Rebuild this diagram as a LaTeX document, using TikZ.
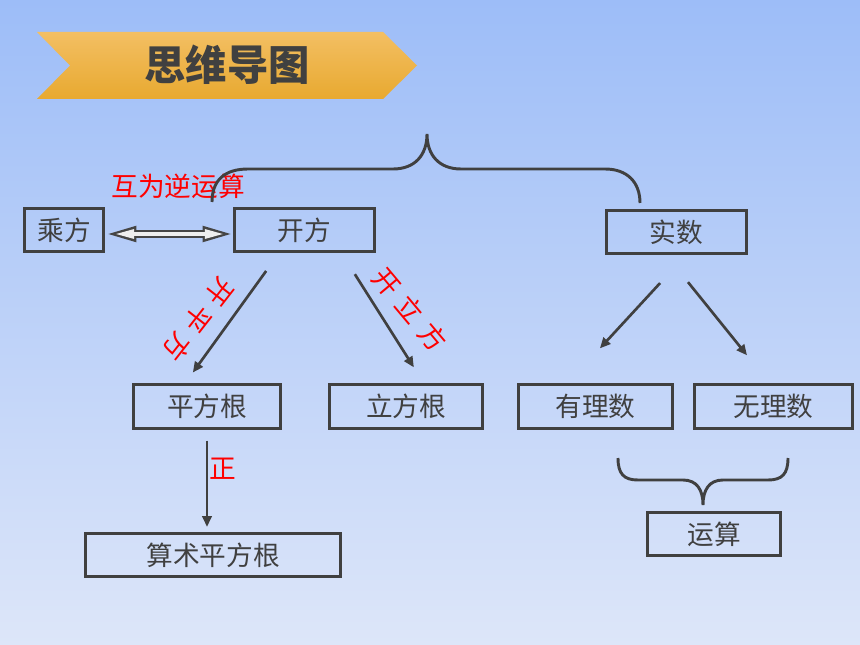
\documentclass[tikz,border=0pt]{standalone}
\usepackage{fontspec}
\setmainfont{Noto Sans CJK SC}
\usetikzlibrary{arrows.meta}
\definecolor{bgtop}{HTML}{9DBDF8}
\definecolor{bgbottom}{HTML}{DDE6F9}
\definecolor{boxgray}{HTML}{404040}
\definecolor{arrgray}{HTML}{454545}
\definecolor{arrwhite}{HTML}{EEEEEE}
\definecolor{bantop}{HTML}{F3BF63}
\definecolor{banmid}{HTML}{F7BB3E}
\definecolor{banbottom}{HTML}{E8A930}
\begin{document}
\begin{tikzpicture}[x=0.75pt,y=-0.75pt,
  box/.style={draw=boxgray, line width=2.2pt, text=boxgray, font=\fontsize{20}{24}\selectfont, inner sep=0pt, minimum height=32.5pt},
  redtxt/.style={text=red, font=\fontsize{20}{24}\selectfont, inner sep=0pt},
  link/.style={draw=boxgray, line width=2pt, -{Triangle[length=8pt,width=7pt]}},
  brace/.style={draw=boxgray, line width=2.2pt},
  harrowout/.style={draw=arrgray, line width=6pt, {Triangle[length=21pt,width=12.5pt,line width=0pt]}-{Triangle[length=21pt,width=12.5pt,line width=0pt]}},
  harrowin/.style={draw=arrwhite, line width=3pt, {Triangle[length=13.5pt,width=7.5pt,line width=0pt]}-{Triangle[length=13.5pt,width=7.5pt,line width=0pt]}}]
\fill[top color=bgtop, bottom color=bgbottom] (0,0) rectangle (860,645);
\useasboundingbox (0,0) rectangle (860,645);
\shade[top color=bantop, middle color=banmid, bottom color=banbottom] (37,32) -- (383,32) -- (417,65.5) -- (383,99) -- (37,99) -- (70,65.5) -- cycle;
\node[text=boxgray, font=\bfseries\fontsize{31}{36}\selectfont] (title) at (227,65) {思维导图};
\node[box, minimum width=59.25pt] (cf) at (64,230) {乘方};
\node[box, minimum width=105pt] (kf) at (304.5,230) {开方};
\node[box, minimum width=105pt] (ss) at (676.5,232) {实数};
\node[box, minimum width=110.25pt] (pfg) at (207,406.5) {平方根};
\node[box, minimum width=114.75pt] (lfg) at (406,406.5) {立方根};
\node[box, minimum width=115.5pt] (yls) at (595.5,406.5) {有理数};
\node[box, minimum width=118.5pt] (wls) at (773.5,406.5) {无理数};
\node[box, minimum width=191.25pt] (sspfg) at (213,555) {算术平方根};
\node[box, minimum width=99.75pt] (ys) at (714,534) {运算};
\node[redtxt] (hwnys) at (178,186) {互为逆运算};
\node[redtxt, rotate=-128] (kpf) at (198.5,319.5) {开\hspace{6pt}平\hspace{6pt}方};
\node[redtxt, rotate=-50] (klf) at (410,309.5) {开\hspace{7pt}立\hspace{7pt}方};
\node[redtxt] (zheng) at (222.5,468.5) {正};
\draw[harrowout, shorten <=2.6pt, shorten >=1.9pt] ([yshift=-3pt]cf.east) -- ([yshift=-3pt]kf.west);
\draw[harrowin, shorten <=8.4pt, shorten >=7.7pt] ([yshift=-3pt]cf.east) -- ([yshift=-3pt]kf.west);
\draw[link, shorten <=16.5pt, shorten >=10pt] ([xshift=-19.1pt]kf.south) -- ([xshift=-16.5pt]pfg.north);
\draw[link, shorten <=18.7pt, shorten >=14.2pt] ([xshift=27.75pt]kf.south) -- ([xshift=13.5pt]lfg.north);
\draw[link, shorten <=28.5pt, shorten >=35.7pt] ([xshift=7pt]ss.south) -- ([xshift=-20.9pt]yls.north);
\draw[link, shorten <=26pt, shorten >=27pt] ([xshift=-7.7pt]ss.south) -- ([xshift=-2.9pt]wls.north);
\draw[link, shorten <=8.25pt, shorten >=3.75pt] (pfg.south) -- ([xshift=-4.5pt]sspfg.north);
\draw[brace] (212,202) .. controls (212,180) and (225,169) .. (248,169) -- (393,169) .. controls (415,169) and (427,155) .. (427,134) .. controls (427,155) and (439,169) .. (461,169) -- (605,169) .. controls (627,169) and (640,182) .. (640,203);
\draw[brace] (618,458) .. controls (618,474) and (624,480) .. (638,480) -- (683,480) .. controls (697,480) and (703,490) .. (703,505) .. controls (703,490) and (709,480) .. (723,480) -- (768,480) .. controls (782,480) and (788,474) .. (788,458);
\end{tikzpicture}
\end{document}
